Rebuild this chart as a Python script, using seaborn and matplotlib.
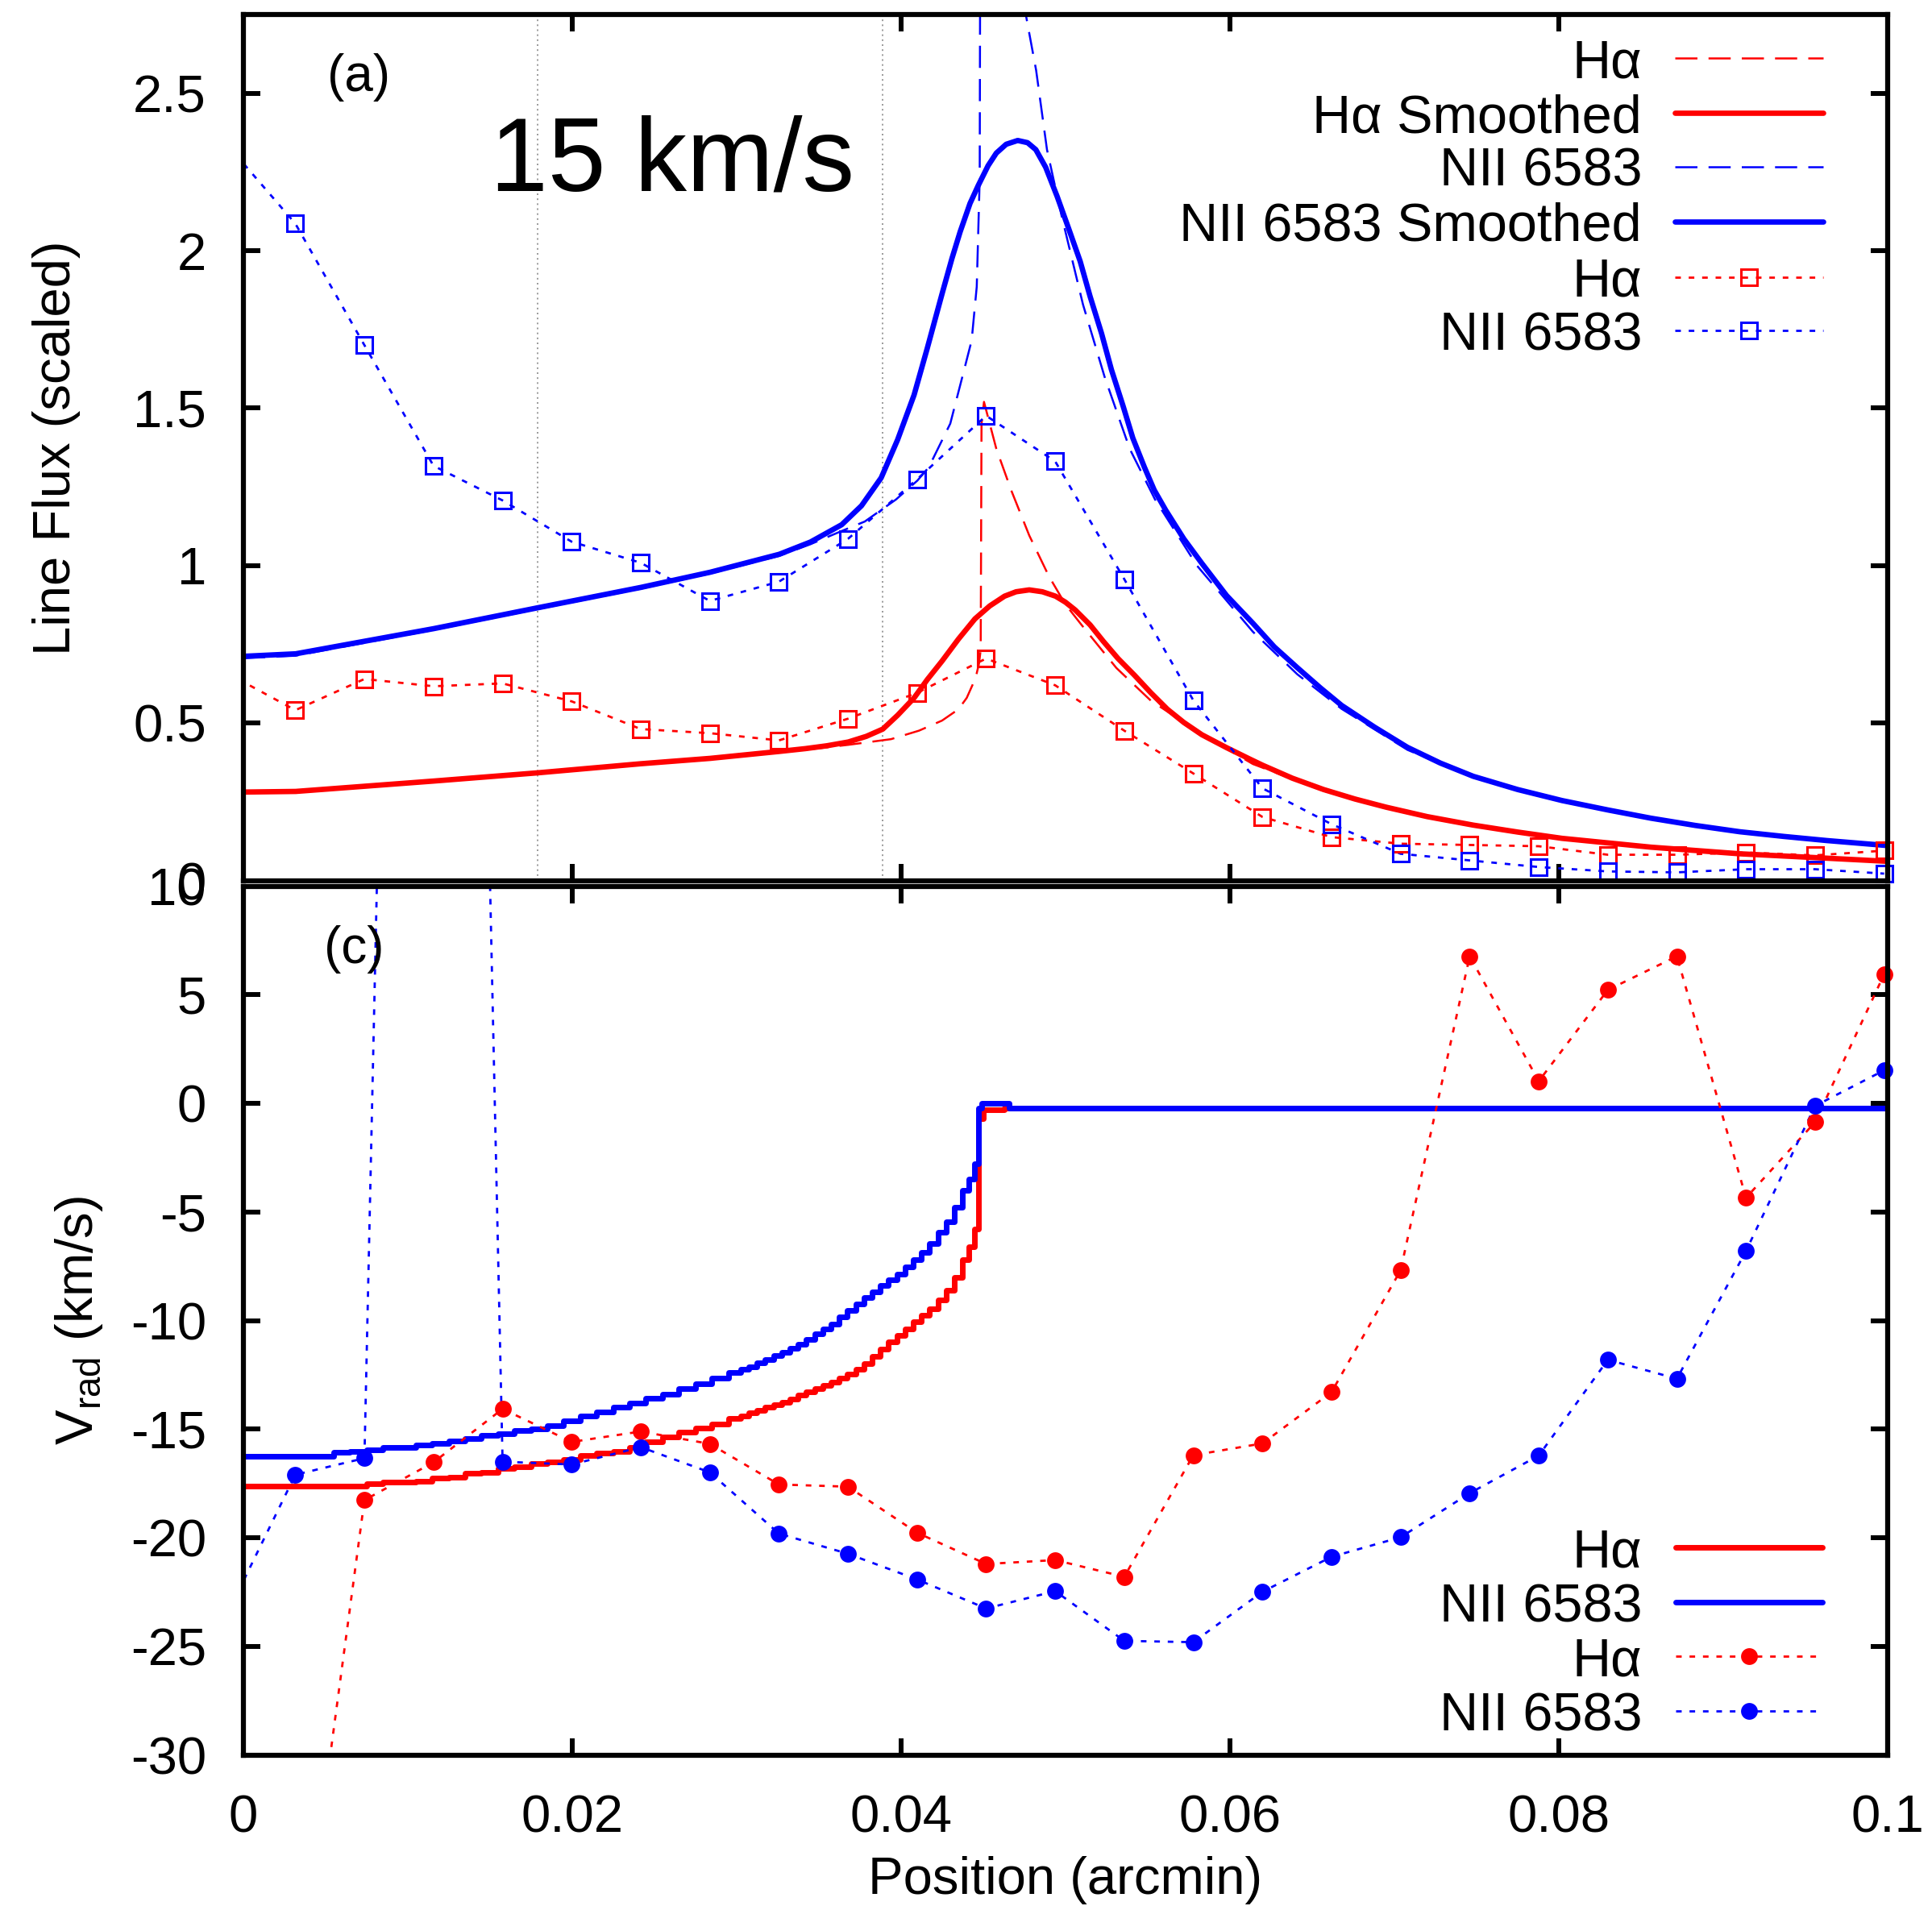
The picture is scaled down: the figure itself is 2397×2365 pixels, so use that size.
import numpy as np
import matplotlib
matplotlib.use("Agg")
import matplotlib.pyplot as plt
import seaborn as sns

# ---------------- data ----------------
# observed positions (arcmin)
obs_x = [-0.00102, 0.00318, 0.00738, 0.01158, 0.01578, 0.01998, 0.02418, 0.02838,
         0.03258, 0.03678, 0.04098, 0.04518, 0.04938, 0.05358, 0.05778, 0.06198,
         0.06618, 0.07038, 0.07458, 0.07878, 0.08298, 0.08718, 0.09138, 0.09558, 0.09978]
ha_obs_flux = [0.66, 0.541, 0.640, 0.617, 0.626, 0.569, 0.481, 0.468, 0.445, 0.514,
               0.596, 0.705, 0.620, 0.476, 0.340, 0.202, 0.138, 0.117, 0.113, 0.109,
               0.082, 0.082, 0.089, 0.080, 0.095]
nii_obs_flux = [2.34, 2.086, 1.700, 1.317, 1.207, 1.076, 1.009, 0.888, 0.949, 1.085,
                1.274, 1.476, 1.331, 0.957, 0.572, 0.293, 0.179, 0.085, 0.064, 0.043,
                0.029, 0.026, 0.036, 0.036, 0.022]
ha_obs_vel_x = obs_x[1:]
ha_obs_vel = [-42.0, -18.27, -16.53, -14.07, -15.59, -15.11, -15.68, -17.55, -17.65,
              -19.77, -21.21, -21.03, -21.80, -16.20, -15.66, -13.30, -7.69, 6.77,
              1.02, 5.22, 6.77, -4.35, -0.87, 5.94]
nii_obs_vel = [-23.6, -17.10, -16.34, 130.0, -16.50, -16.63, -15.83, -16.99, -19.81,
               -20.74, -21.92, -23.26, -22.46, -24.75, -24.81, -22.49, -20.88, -19.98,
               -17.95, -16.22, -11.81, -12.68, -6.80, -0.12, 1.52]

# model line fluxes
ha_model_x = [0, 0.0032, 0.0116, 0.0179, 0.0242, 0.0284, 0.0326, 0.0350, 0.0368, 0.0394,
              0.0411, 0.0425, 0.0435, 0.0440, 0.04454, 0.04475, 0.04485, 0.04490, 0.04505,
              0.0458, 0.0467, 0.0478, 0.0490, 0.0500, 0.0511, 0.0531, 0.0552, 0.0573,
              0.0591, 0.0614, 0.0657, 0.0695, 0.0748, 0.0802, 0.0856, 0.0910, 0.0963, 0.1]
ha_model_flux = [0.278, 0.280, 0.313, 0.339, 0.368, 0.385, 0.407, 0.420, 0.431, 0.449,
                 0.476, 0.508, 0.544, 0.580, 0.643, 0.690, 0.733, 1.45, 1.520,
                 1.371, 1.240, 1.096, 0.966, 0.877, 0.804, 0.675, 0.571, 0.499,
                 0.440, 0.370, 0.285, 0.230, 0.173, 0.131, 0.104, 0.083, 0.069, 0.059]
ha_smooth_x = [0, 0.0032, 0.0116, 0.0179, 0.0242, 0.0284, 0.0326, 0.0342, 0.0355, 0.0368,
               0.0379, 0.0389, 0.0398, 0.0408, 0.0416, 0.0425, 0.0435, 0.0445, 0.0454,
               0.0463, 0.0470, 0.0478, 0.0486, 0.0494, 0.0500, 0.0506, 0.0515, 0.0523,
               0.0532, 0.0542, 0.0552, 0.0562, 0.0572, 0.0583, 0.0598, 0.0612, 0.0620,
               0.0638, 0.0657, 0.0676, 0.0695, 0.0720, 0.0748, 0.0775, 0.0802, 0.0856,
               0.0910, 0.0963, 0.1]
ha_smooth_flux = [0.281, 0.283, 0.316, 0.342, 0.371, 0.388, 0.410, 0.419, 0.428, 0.440,
                  0.458, 0.481, 0.525, 0.580, 0.638, 0.697, 0.767, 0.831, 0.872,
                  0.903, 0.917, 0.923, 0.917, 0.903, 0.884, 0.859, 0.812, 0.760,
                  0.705, 0.652, 0.596, 0.544, 0.502, 0.463, 0.422, 0.386, 0.366,
                  0.325, 0.289, 0.259, 0.233, 0.203, 0.176, 0.154, 0.134, 0.106,
                  0.085, 0.071, 0.061]
nii_model_x = [0, 0.0032, 0.0116, 0.0179, 0.0242, 0.0284, 0.0326, 0.0345, 0.0364, 0.0378,
               0.0397, 0.0410, 0.0417, 0.0430, 0.04385, 0.0443, 0.04461, 0.04479, 0.04490,
               0.0470, 0.04757, 0.04822, 0.04888, 0.04975, 0.05107, 0.05238, 0.05391,
               0.05544, 0.0580, 0.0614, 0.0641, 0.0668, 0.0708, 0.0748, 0.0802, 0.0856,
               0.0910, 0.0963, 0.1]
nii_model_flux = [0.706, 0.714, 0.796, 0.862, 0.927, 0.975, 1.031, 1.068, 1.110, 1.140,
                  1.21, 1.27, 1.313, 1.451, 1.623, 1.715, 1.886, 2.23, 5.0,
                  3.1, 2.756, 2.573, 2.321, 2.115, 1.829, 1.600, 1.371,
                  1.211, 1.0, 0.79, 0.655, 0.545, 0.415, 0.327, 0.251, 0.196,
                  0.153, 0.125, 0.109]
nii_smooth_x = [0, 0.0032, 0.0116, 0.0179, 0.0242, 0.0284, 0.0326, 0.0345, 0.0364, 0.0376,
                0.0388, 0.0398, 0.0408, 0.0416, 0.0425, 0.0431, 0.0436, 0.0442, 0.0447,
                0.0453, 0.0458, 0.0464, 0.0471, 0.0477, 0.0482, 0.0488, 0.0495, 0.0502,
                0.0509, 0.0515, 0.0522, 0.0528, 0.0535, 0.0541, 0.0548, 0.0554, 0.0561,
                0.0572, 0.0583, 0.0598, 0.0614, 0.0627, 0.0641, 0.0655, 0.0668, 0.0688,
                0.0708, 0.0728, 0.0748, 0.0775, 0.0802, 0.0830, 0.0856, 0.0883, 0.0910,
                0.0937, 0.0963, 0.1]
nii_smooth_flux = [0.712, 0.720, 0.800, 0.866, 0.931, 0.979, 1.036, 1.075, 1.130, 1.19,
                   1.279, 1.40, 1.542, 1.69, 1.863, 1.975, 2.060, 2.150, 2.207,
                   2.270, 2.310, 2.338, 2.350, 2.343, 2.321, 2.265, 2.172, 2.070,
                   1.966, 1.855, 1.737, 1.622, 1.508, 1.405, 1.313, 1.240, 1.176,
                   1.085, 1.007, 0.905, 0.817, 0.742, 0.676, 0.612, 0.556, 0.487,
                   0.423, 0.373, 0.331, 0.289, 0.254, 0.224, 0.198, 0.175, 0.155,
                   0.140, 0.127, 0.111]

# model radial velocities
vel_grid = [0.000, 0.001, 0.002, 0.003, 0.004, 0.005, 0.006, 0.007, 0.008, 0.009,
            0.010, 0.011, 0.012, 0.013, 0.014, 0.015, 0.016, 0.017, 0.018, 0.019,
            0.020, 0.021, 0.022, 0.023, 0.024, 0.025, 0.026, 0.027, 0.028, 0.029,
            0.0300, 0.0305, 0.0310, 0.0315, 0.0320, 0.0325, 0.0330, 0.0335, 0.0340,
            0.0345, 0.0350, 0.0355, 0.0360, 0.0365, 0.0370, 0.0375, 0.0380, 0.0385,
            0.0390, 0.0395, 0.0400, 0.0405, 0.0410, 0.0415, 0.0420, 0.0425, 0.0430,
            0.0435, 0.0440, 0.0443]
ha_vel_x = vel_grid + [0.0446, 0.0448, 0.0452, 0.0462, 0.0464, 0.1]
ha_vel = [-17.63, -17.63, -17.63, -17.63, -17.63, -17.63, -17.63, -17.63, -17.50, -17.44,
          -17.44, -17.40, -17.25, -17.21, -17.03, -17.00, -16.80, -16.75, -16.59, -16.50,
          -16.40, -16.23, -16.10, -16.02, -15.85, -15.60, -15.35, -15.15, -14.95, -14.75,
          -14.50, -14.38, -14.25, -14.12, -14.00, -13.88, -13.75, -13.60, -13.45,
          -13.30, -13.15, -13.00, -12.85, -12.65, -12.45, -12.25, -12.00, -11.65,
          -11.30, -11.00, -10.70, -10.38, -10.05, -9.75, -9.45, -9.05, -8.60,
          -8.00, -7.20, -6.60,
          -5.8, -0.7, -0.29, -0.29, -0.23, -0.23]
nii_vel_x = vel_grid + [0.0446, 0.0448, 0.0450, 0.0465, 0.0467, 0.1]
nii_vel = [-16.25, -16.25, -16.25, -16.25, -16.25, -16.25, -16.05, -16.02, -15.95, -15.85,
           -15.83, -15.72, -15.66, -15.55, -15.45, -15.30, -15.22, -15.08, -15.00, -14.85,
           -14.62, -14.40, -14.20, -14.00, -13.80, -13.58, -13.40, -13.15, -12.92, -12.65,
           -12.40, -12.26, -12.12, -11.96, -11.80, -11.62, -11.45, -11.28, -11.10,
           -10.86, -10.62, -10.38, -10.15, -9.85, -9.55, -9.25, -8.96, -8.68,
           -8.40, -8.12, -7.85, -7.52, -7.20, -6.85, -6.45, -5.95, -5.45,
           -4.80, -4.00, -3.50,
           -2.8, -0.24, 0.0, 0.0, -0.21, -0.21]

shell_marks = [0.0179, 0.0389]

legend_top = ["Hα", "Hα Smoothed", "NII 6583", "NII 6583 Smoothed", "Hα", "NII 6583"]
legend_bot = ["Hα", "NII 6583", "Hα", "NII 6583"]

# ---------------- style ----------------
sns.set_theme(style="white")
plt.rcParams['font.family'] = ['Liberation Sans', 'DejaVu Sans']
plt.rcParams['mathtext.fontset'] = 'custom'
plt.rcParams['mathtext.rm'] = 'Liberation Sans'
plt.rcParams['mathtext.it'] = 'Liberation Sans:italic'
plt.rcParams['axes.unicode_minus'] = False
plt.rcParams['text.color'] = 'black'
plt.rcParams['axes.labelcolor'] = 'black'
plt.rcParams['xtick.color'] = 'black'
plt.rcParams['ytick.color'] = 'black'

RED = '#ff0000'
BLUE = '#0000ff'
FS = 47
DASH = (0, (11, 5.5))
DOT = (0, (2.5, 3.5))
LW_THIN = 1.8
LW_DOT = 2.0
LW_THICK = 4.8
LW_STEP = 5.0

fig = plt.figure(figsize=(23.97, 23.65), dpi=100)
ax1 = fig.add_axes([0.1258, 0.53801, 0.8513, 0.45438])
ax2 = fig.add_axes([0.1258, 0.07928, 0.8513, 0.45581])


def draw_line(ax, x, y, color, lw, ls, **kw):
    sns.lineplot(x=x, y=y, ax=ax, color=color, linewidth=lw, linestyle=ls,
                 sort=False, estimator=None, legend=False, **kw)


def draw_markers(ax, x, y, color, marker, ms, filled, ylim):
    xs = np.asarray(x, float)
    ys = np.asarray(y, float)
    m = (xs >= 0) & (xs <= 0.1) & (ys >= ylim[0]) & (ys <= ylim[1])
    sns.lineplot(x=xs[m], y=ys[m], ax=ax, color=color, linestyle='none',
                 marker=marker, markersize=ms,
                 markerfacecolor=(color if filled else 'none'),
                 markeredgecolor=color, markeredgewidth=(0 if filled else 2.2),
                 sort=False, estimator=None, legend=False, clip_on=False, zorder=4)


# ---------------- top panel ----------------
for xv in shell_marks:
    ax1.axvline(xv, color='#8a8a8a', lw=1.2, linestyle=(0, (1.2, 2.5)), zorder=1)

draw_line(ax1, ha_model_x, ha_model_flux, RED, LW_THIN, DASH)
draw_line(ax1, ha_smooth_x, ha_smooth_flux, RED, LW_THICK, '-')
draw_line(ax1, nii_model_x, nii_model_flux, BLUE, LW_THIN, DASH)
draw_line(ax1, nii_smooth_x, nii_smooth_flux, BLUE, LW_THICK, '-')
draw_line(ax1, obs_x, ha_obs_flux, RED, LW_DOT, DOT)
draw_markers(ax1, obs_x, ha_obs_flux, RED, 's', 14, False, (0, 2.75))
draw_line(ax1, obs_x, nii_obs_flux, BLUE, LW_DOT, DOT)
draw_markers(ax1, obs_x, nii_obs_flux, BLUE, 's', 14, False, (0, 2.75))

ax1.set_xlim(0, 0.1)
ax1.set_ylim(0, 2.75)
ax1.set_yticks([0, 0.5, 1, 1.5, 2, 2.5])
ax1.set_yticklabels(['0', '0.5', '1', '1.5', '2', '2.5'])
ax1.set_xticks([0, 0.02, 0.04, 0.06, 0.08, 0.1])
ax1.tick_params(labelbottom=False)
ax1.set_xlabel('')
ax1.set_ylabel('Line Flux (scaled)', fontsize=FS)
ax1.yaxis.set_label_coords(-0.0988, 0.5)

ax1.text(0.0051, 2.55, '(a)', fontsize=46, va='center', ha='left')
ax1.text(0.01502, 2.19, '15 km/s', fontsize=93, va='baseline', ha='left')

# legend (gnuplot style: right-aligned labels, samples on the right)
rows_top = [0.9495, 0.8862, 0.8241, 0.7608, 0.6969, 0.6348]
styles_top = [(RED, LW_THIN, DASH, None), (RED, LW_THICK, '-', None),
              (BLUE, LW_THIN, DASH, None), (BLUE, LW_THICK, '-', None),
              (RED, LW_DOT, DOT, 's'), (BLUE, LW_DOT, DOT, 's')]
for lab, ry, (c, lw, ls, mk) in zip(legend_top, rows_top, styles_top):
    ax1.text(0.8505, ry - 0.0222, lab, transform=ax1.transAxes, fontsize=48,
             ha='right', va='baseline')
    ax1.plot([0.8706, 0.9608], [ry, ry], transform=ax1.transAxes, color=c, lw=lw,
             linestyle=ls, clip_on=False)
    if mk:
        ax1.plot([0.9157], [ry], transform=ax1.transAxes, marker=mk, ms=14,
                 mfc='none', mec=c, mew=2.2, linestyle='none', clip_on=False)

# ---------------- bottom panel ----------------
draw_line(ax2, ha_vel_x, ha_vel, RED, LW_STEP, '-', drawstyle='steps-mid')
draw_line(ax2, nii_vel_x, nii_vel, BLUE, LW_STEP, '-', drawstyle='steps-mid')
draw_line(ax2, ha_obs_vel_x, ha_obs_vel, RED, LW_DOT, DOT)
draw_markers(ax2, ha_obs_vel_x, ha_obs_vel, RED, 'o', 15, True, (-30, 10))
draw_line(ax2, obs_x, nii_obs_vel, BLUE, LW_DOT, DOT)
draw_markers(ax2, obs_x, nii_obs_vel, BLUE, 'o', 15, True, (-30, 10))

ax2.set_xlim(0, 0.1)
ax2.set_ylim(-30, 10)
ax2.set_yticks([-30, -25, -20, -15, -10, -5, 0, 5, 10])
ax2.set_yticklabels(['-30', '-25', '-20', '-15', '-10', '-5', '0', '5', '10'])
ax2.set_xticks([0, 0.02, 0.04, 0.06, 0.08, 0.1])
ax2.set_xticklabels(['0', '0.02', '0.04', '0.06', '0.08', '0.1'])
ax2.set_xlabel('Position (arcmin)', fontsize=FS)
ax2.xaxis.set_label_coords(0.5, -0.116)
ax2.set_ylabel('V$_{\\rm rad}$ (km/s)', fontsize=FS)
ax2.yaxis.set_label_coords(-0.084, 0.5)
ax2.text(0.0049, 7.1, '(c)', fontsize=46, va='center', ha='left')

rows_bot = [0.2388, 0.1754, 0.1135, 0.0501]
styles_bot = [(RED, LW_STEP, '-', None), (BLUE, LW_STEP, '-', None),
              (RED, LW_DOT, DOT, 'o'), (BLUE, LW_DOT, DOT, 'o')]
for lab, ry, (c, lw, ls, mk) in zip(legend_bot, rows_bot, styles_bot):
    ax2.text(0.8505, ry - 0.0222, lab, transform=ax2.transAxes, fontsize=48,
             ha='right', va='baseline')
    ax2.plot([0.8709, 0.9604], [ry, ry], transform=ax2.transAxes, color=c, lw=lw,
             linestyle=ls, clip_on=False)
    if mk:
        ax2.plot([0.9157], [ry], transform=ax2.transAxes, marker=mk, ms=15,
                 mfc=c, mec=c, mew=0, linestyle='none', clip_on=False)

# ---------------- axes styling ----------------
for ax in (ax1, ax2):
    for sp in ax.spines.values():
        sp.set_color('black')
        sp.set_linewidth(4.5)
        sp.set_visible(True)
        sp.set_zorder(5)
    ax.tick_params(axis='both', which='major', direction='in', length=15, width=4.3,
                   color='black', top=True, right=True, bottom=True, left=True,
                   labelsize=FS, labelcolor='black')
    ax.tick_params(axis='y', pad=32.8)
    ax.tick_params(axis='x', pad=35)
    ax.set_facecolor('white')
    ax.grid(False)
    ax.xaxis.label.set_color('black')
    ax.yaxis.label.set_color('black')

fig.savefig('out.png', dpi=100, facecolor='white')
